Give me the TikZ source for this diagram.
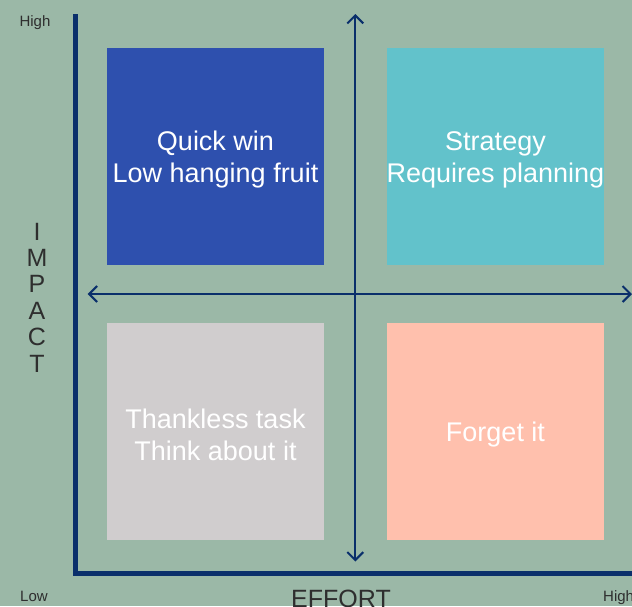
\documentclass[tikz,border=0pt]{standalone}
\usepackage{fontspec}
\setmainfont{Liberation Sans}
\usetikzlibrary{arrows.meta}
\definecolor{bg}{HTML}{9BB8A7}
\definecolor{navy}{HTML}{0A2F6B}
\definecolor{qwin}{HTML}{2E50AE}
\definecolor{strat}{HTML}{62C2CB}
\definecolor{thank}{HTML}{D0CDCE}
\definecolor{forget}{HTML}{FFC0AD}
\definecolor{lbl}{HTML}{2E2E2E}
\tikzset{
  quad/.style={minimum width=217pt, minimum height=217pt, inner sep=0pt, align=center,
    text=white, font=\fontsize{27}{32}\selectfont},
  quadtext/.style={align=center, text=white, inner sep=0pt, font=\fontsize{27}{32}\selectfont},
  axisline/.style={draw=navy, line width=5pt, line join=miter},
  quadarrow/.style={draw=navy, line width=2pt, {Straight Barb[length=8pt,width=16pt]}-{Straight Barb[length=8pt,width=16pt]}},
  smalllbl/.style={text=lbl, font=\fontsize{15}{18}\selectfont, inner sep=0pt},
  biglbl/.style={text=lbl, font=\fontsize{25}{26.4}\selectfont, inner sep=0pt}
}
\begin{document}
\begin{tikzpicture}[x=1pt,y=-1pt]
\fill[bg] (0,0) rectangle (632,606);
\useasboundingbox (0,0) rectangle (632,606);
% quadrants
\node[quad, fill=qwin] (qw) at (215.5,156.5) {};
\node[quad, fill=strat] (st) at (495.5,156.5) {};
\node[quad, fill=thank] (th) at (215.5,431.8) {};
\node[quad, fill=forget] (fg) at (495.5,431.8) {};
\node[quadtext, yshift=-3pt] (qwt) at (qw.center) {Quick win\\Low hanging fruit};
\node[quadtext, yshift=-3pt] (stt) at (st.center) {Strategy\\Requires planning};
\node[quadtext, yshift=-3pt] (tht) at (th.center) {Thankless task\\Think about it};
\node[quadtext, yshift=-3pt] (fgt) at (fg.center) {Forget it};
% axes
\coordinate (ytop) at (75,14);
\coordinate (orig) at (75,573.5);
\coordinate (xend) at (632,573.5);
\draw[axisline] (ytop) -- (orig) -- (xend);
% quadrant arrows
\coordinate (vt) at (355.3,14);
\coordinate (vb) at (355.3,561.5);
\coordinate (hl) at (87.7,294);
\coordinate (hr) at (632,294);
\draw[quadarrow] (vb) -- (vt);
\draw[quadarrow] (hl) -- (hr);
% labels
\node[smalllbl, anchor=base] (yhigh) at (35,26.5) {High};
\node[smalllbl, anchor=base] (xlow) at (34,601) {Low};
\node[smalllbl, anchor=base west] (xhigh) at (603,601) {High};
\node[biglbl, anchor=base] (effort) at (341,607) {EFFORT};
\node[biglbl, align=center, anchor=north] (impact) at (37,222.7) {I\\M\\P\\A\\C\\T};
\end{tikzpicture}
\end{document}
